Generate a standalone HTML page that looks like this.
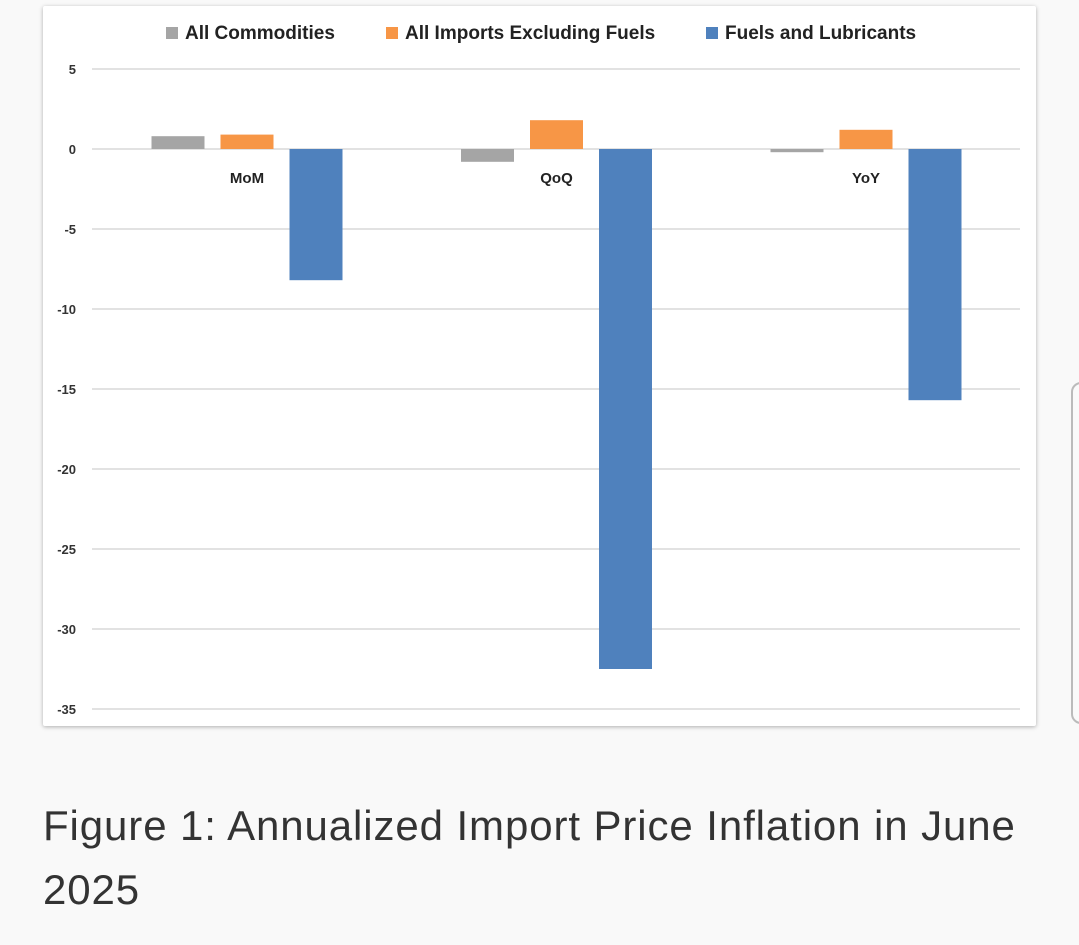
<!DOCTYPE html>
<html><head><meta charset="utf-8"><style>
body{margin:0;width:1079px;height:945px;background:#f9f9f9;overflow:hidden;font-family:"Liberation Sans",sans-serif;position:relative}
#card{position:absolute;left:43px;top:6px;width:993px;height:720px;background:#fff;box-shadow:0 1px 4px rgba(0,0,0,.3);border-radius:2px}
#side{position:absolute;left:1071px;top:382px;width:40px;height:338px;border:2px solid #bbb;border-radius:10px;background:#fafafa}
#cap{position:absolute;left:43px;top:794px;font-size:42px;line-height:64px;color:#333;width:1030px;letter-spacing:0.9px}
</style></head><body>
<div id="card"></div>
<div id="side"></div>
<svg id="chart" width="1079" height="945" style="position:absolute;left:0;top:0"></svg>
<div id="cap">Figure 1: Annualized Import Price Inflation in June 2025</div>
<script>
const categories=["MoM","QoQ","YoY"];
const seriesNames=["All Commodities","All Imports Excluding Fuels","Fuels and Lubricants"];
const allCommodities=[0.8,-0.8,-0.2];
const excludingFuels=[0.9,1.8,1.2];
const fuels=[-8.2,-32.5,-15.7];
const ticks=[5,0,-5,-10,-15,-20,-25,-30,-35];
const colors=["#a5a5a5","#f79646","#4f81bd"];
const series=[allCommodities,excludingFuels,fuels];
const NS="http://www.w3.org/2000/svg";
const svg=document.getElementById('chart');
const y=v=>149-(v*16);
const gx=i=>247+i*309.5;
function el(t,a,txt){const e=document.createElementNS(NS,t);for(const k in a)e.setAttribute(k,a[k]);if(txt!==undefined)e.textContent=txt;svg.appendChild(e);return e;}
ticks.forEach(t=>{
 const l=el('line',{x1:92,x2:1020,y1:y(t),y2:y(t),stroke:'#d9d9d9','stroke-width':1.5});
 
 
 const tx=el('text',{x:76,y:y(t)+5,'text-anchor':'end','font-size':13,'font-weight':'bold',fill:'#333'},String(t));
 
 
});
series.forEach((s,si)=>{
 s.forEach((v,ci)=>{
  const cx=gx(ci)+(si-1)*69;
  const r=el('rect',{x:cx-26.5,y:Math.min(y(v),y(0)),width:53,height:Math.abs(y(v)-y(0)),fill:colors[si]});
  
  
 });
});
categories.forEach((c,ci)=>{
 const t=el('text',{x:gx(ci),y:183,'text-anchor':'middle','font-size':15,'font-weight':'bold',fill:'#222'},c);
 
 
});
const legX=[166,386,706];
seriesNames.forEach((n,i)=>{
 const r=el('rect',{x:legX[i],y:27,width:12,height:12,fill:colors[i]});
 
 
 const t=el('text',{x:legX[i]+19,y:39,'font-size':19,'font-weight':'bold',fill:'#222'},n);
 
 
});
</script>
</body></html>
